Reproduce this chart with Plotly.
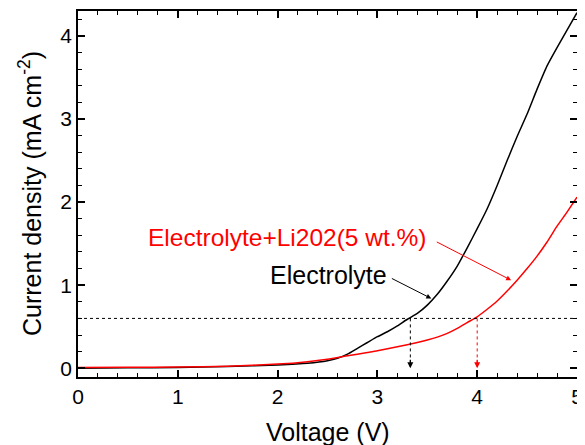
import plotly.graph_objects as go

voltage = [0.0, 0.5, 1.0, 1.5, 2.0, 2.3, 2.5, 2.6, 2.7, 2.8, 2.9, 3.0, 3.1, 3.2, 3.3, 3.4, 3.5,
           3.6, 3.7, 3.8, 3.9, 4.0, 4.1, 4.2, 4.3, 4.4, 4.5, 4.6, 4.7, 4.8, 4.9, 5.0]
electrolyte = [0.0, 0.005, 0.01, 0.02, 0.04, 0.06, 0.09, 0.12, 0.17, 0.24, 0.31, 0.38, 0.44,
               0.51, 0.59, 0.66, 0.76, 0.89, 1.05, 1.23, 1.45, 1.68, 1.92, 2.2, 2.5, 2.79,
               3.06, 3.36, 3.64, 3.86, 4.07, 4.28]
voltage_red = [0.0, 0.5, 1.0, 1.5, 2.0, 2.3, 2.5, 2.7, 2.9, 3.0, 3.2, 3.4, 3.5, 3.6, 3.7, 3.8, 3.9,
               4.0, 4.1, 4.2, 4.3, 4.4, 4.5, 4.6, 4.7, 4.8, 4.9, 5.0]
electrolyte_li = [0.01, 0.012, 0.015, 0.025, 0.05, 0.08, 0.11, 0.15, 0.19, 0.21, 0.26, 0.31,
                  0.34, 0.375, 0.42, 0.48, 0.55, 0.62, 0.71, 0.81, 0.93, 1.06, 1.2, 1.35, 1.52,
                  1.71, 1.88, 2.06]
threshold = 0.6
onset_black = 3.33
onset_red = 4.0

FONT = "Liberation Sans, Arial, sans-serif"

fig = go.Figure()
fig.add_trace(go.Scatter(x=voltage, y=electrolyte, mode="lines", line=dict(color="black", width=1.5,
                         shape="spline", smoothing=0.5), showlegend=False))
fig.add_trace(go.Scatter(x=voltage_red, y=electrolyte_li, mode="lines", line=dict(color="red", width=1.5,
                         shape="spline", smoothing=0.5), showlegend=False))

# dotted threshold line
fig.add_shape(type="line", x0=0, x1=5, y0=threshold, y1=threshold, xref="x", yref="y",
              line=dict(color="black", width=1, dash="dot"))
# dotted onset drop lines
fig.add_shape(type="line", x0=onset_black, x1=onset_black, y0=threshold, y1=0.05, xref="x", yref="y",
              line=dict(color="black", width=1, dash="dot"))
fig.add_shape(type="line", x0=onset_red, x1=onset_red, y0=threshold, y1=0.05, xref="x", yref="y",
              line=dict(color="red", width=1, dash="dot"))
fig.add_annotation(x=onset_black, y=0.0, ax=onset_black, ay=0.12, xref="x", yref="y", axref="x", ayref="y",
                   text="", showarrow=True, arrowhead=2, arrowsize=1, arrowwidth=1.2, arrowcolor="black")
fig.add_annotation(x=onset_red, y=0.0, ax=onset_red, ay=0.12, xref="x", yref="y", axref="x", ayref="y",
                   text="", showarrow=True, arrowhead=2, arrowsize=1, arrowwidth=1.2, arrowcolor="red")

# labels
fig.add_annotation(x=3.12, y=1.12, xref="x", yref="y", text="Electrolyte", showarrow=False,
                   xanchor="right", yanchor="middle", font=dict(family=FONT, size=25, color="black"))
fig.add_annotation(x=3.54, y=0.84, ax=3.13, ay=1.09, xref="x", yref="y", axref="x", ayref="y",
                   text="", showarrow=True, arrowhead=2, arrowsize=1, arrowwidth=1, arrowcolor="black")
fig.add_annotation(x=3.51, y=1.57, xref="x", yref="y", text="Electrolyte+Li202(5 wt.%)", showarrow=False,
                   xanchor="right", yanchor="middle", font=dict(family=FONT, size=24.5, color="red"))
fig.add_annotation(x=4.34, y=1.06, ax=3.58, ay=1.53, xref="x", yref="y", axref="x", ayref="y",
                   text="", showarrow=True, arrowhead=2, arrowsize=1, arrowwidth=1, arrowcolor="red")

# axis titles placed as annotations relative to the plot area
fig.add_annotation(x=0.5, y=0, xref="paper", yref="paper", text="Voltage (V)", showarrow=False,
                   xanchor="center", yanchor="middle", yshift=-55,
                   font=dict(family=FONT, size=25, color="black"))
fig.add_annotation(x=0, y=0.5, xref="paper", yref="paper", text="Current density (mA cm<sup>-2</sup>)",
                   showarrow=False, textangle=-90, xanchor="center", yanchor="middle", xshift=-48,
                   font=dict(family=FONT, size=25, color="black"))

axis_common = dict(showline=True, linecolor="black", linewidth=1.5, mirror="ticks", ticks="inside",
                   ticklen=7, tickwidth=1.5, tickcolor="black", showgrid=False, zeroline=False,
                   automargin=False,
                   tickfont=dict(family=FONT, size=21, color="black"),
                   minor=dict(ticks="inside", ticklen=4, tickwidth=1, tickcolor="black", dtick=0.2, showgrid=False))

fig.update_xaxes(range=[0, 5], dtick=1, **axis_common)
fig.update_yaxes(range=[-0.105, 4.3], dtick=1, tick0=0, **axis_common)

# page body has an 8px margin; margins are offset so the plot lands where the reference has it
fig.update_layout(width=585, height=445, margin=dict(l=70, r=16, t=3, b=76),
                  plot_bgcolor="white", paper_bgcolor="white", font=dict(family=FONT))

fig.write_html("out.html")
